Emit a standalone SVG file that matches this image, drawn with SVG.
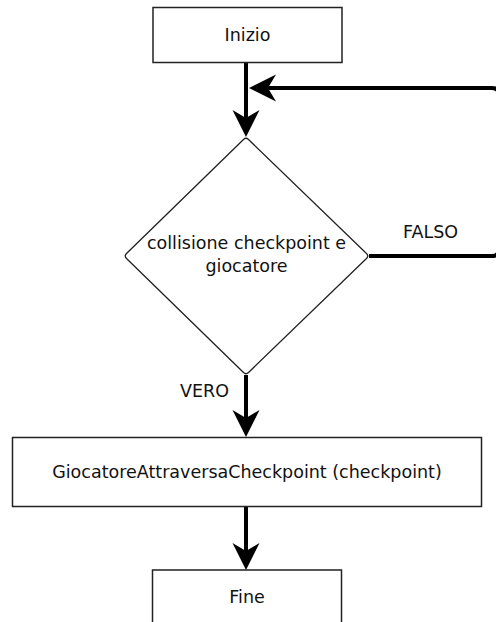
<svg xmlns="http://www.w3.org/2000/svg" width="496" height="622" viewBox="0 0 496 622">
<style>
.box{fill:#fff;stroke:#222;stroke-width:1.5}
.dia{fill:#fff;stroke:#222;stroke-width:1.3;stroke-linejoin:round}
.t{font-family:"DejaVu Sans",sans-serif;font-size:17.5px;fill:#111;text-anchor:middle}
.lbl{font-family:"DejaVu Sans",sans-serif;font-size:17.5px;fill:#111}
.c{fill:none;stroke:#000;stroke-width:4}
</style>
<defs>
<marker id="ah" viewBox="0 -14 28 28" markerWidth="28" markerHeight="28" refX="8" refY="0" orient="auto" markerUnits="userSpaceOnUse" overflow="visible">
<path d="M27,0 L0,-13.5 L8,0 L0,13.5 Z" fill="#000"/>
</marker>
</defs>
<rect width="496" height="622" fill="#fff"/>
<g id="connectors">
<path class="c" d="M246,62.5 V118" marker-end="url(#ah)"/>
<path class="c" d="M369,256 H492 Q499,256 499,249 V95 Q499,88 492,88 H268" marker-end="url(#ah)"/>
<path class="c" d="M246,375 V418" marker-end="url(#ah)"/>
<path class="c" d="M246,507 V551" marker-end="url(#ah)"/>
<text class="lbl" x="403" y="238">FALSO</text>
<text class="lbl" x="180" y="397">VERO</text>
</g>
<g id="inizio">
<rect class="box" x="153" y="7.5" width="189" height="55"/>
<text class="t" x="247.5" y="41">Inizio</text>
</g>
<g id="decisione">
<path class="dia" d="M243.5,139.5 Q246,137 248.5,139.5 L366.5,253.5 Q369,256 366.5,258.5 L248.5,372.5 Q246,375 243.5,372.5 L126.5,258.5 Q124,256 126.5,253.5 Z"/>
<text class="t" x="246.5" y="249">collisione checkpoint e</text>
<text class="t" x="246.5" y="272">giocatore</text>
</g>
<g id="attraversa">
<rect class="box" x="12.5" y="437.5" width="469" height="69"/>
<text class="t" x="247" y="478">GiocatoreAttraversaCheckpoint (checkpoint)</text>
</g>
<g id="fine">
<rect class="box" x="152.5" y="570" width="189" height="55"/>
<text class="t" x="247" y="603">Fine</text>
</g>
</svg>
